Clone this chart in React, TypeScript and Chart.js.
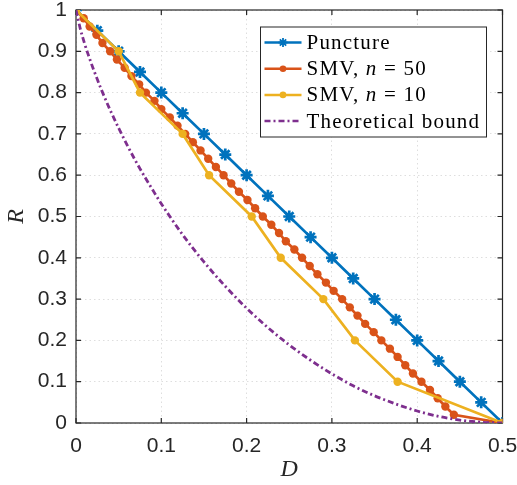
import React, { useEffect, useRef } from 'react';
import { Chart, registerables } from 'chart.js';

Chart.register(...registerables);

const punctureD = [0, 0.025, 0.05, 0.075, 0.1, 0.125, 0.15, 0.175, 0.2, 0.225, 0.25, 0.275, 0.3, 0.325, 0.35, 0.375, 0.4, 0.425, 0.45, 0.475, 0.5];
const punctureR = [1, 0.95, 0.9, 0.85, 0.8, 0.75, 0.7, 0.65, 0.6, 0.55, 0.5, 0.45, 0.4, 0.35, 0.3, 0.25, 0.2, 0.15, 0.1, 0.05, 0];

const smv50D = [0, 0.009, 0.016, 0.024, 0.031, 0.04, 0.048, 0.057, 0.065, 0.074, 0.082, 0.092, 0.1, 0.11, 0.119, 0.128, 0.137, 0.146, 0.155, 0.164, 0.173, 0.182, 0.191, 0.201, 0.21, 0.219, 0.229, 0.238, 0.246, 0.256, 0.265, 0.274, 0.283, 0.293, 0.302, 0.312, 0.321, 0.33, 0.339, 0.349, 0.358, 0.368, 0.377, 0.386, 0.395, 0.405, 0.415, 0.424, 0.433, 0.443, 0.5];
const smv50R = [1, 0.98, 0.96, 0.94, 0.92, 0.9, 0.88, 0.86, 0.84, 0.82, 0.8, 0.78, 0.76, 0.74, 0.72, 0.7, 0.68, 0.66, 0.64, 0.62, 0.6, 0.58, 0.56, 0.54, 0.52, 0.5, 0.48, 0.46, 0.44, 0.42, 0.4, 0.38, 0.36, 0.34, 0.32, 0.3, 0.28, 0.26, 0.24, 0.22, 0.2, 0.18, 0.16, 0.14, 0.12, 0.1, 0.08, 0.06, 0.04, 0.02, 0];

const smv10D = [0, 0.05, 0.075, 0.125, 0.156, 0.206, 0.24, 0.29, 0.327, 0.377, 0.5];
const smv10R = [1, 0.9, 0.8, 0.7, 0.6, 0.5, 0.4, 0.3, 0.2, 0.1, 0];

const boundD = [0, 0.005, 0.01, 0.015, 0.02, 0.03, 0.04, 0.05, 0.06, 0.07, 0.08, 0.09, 0.1, 0.125, 0.15, 0.175, 0.2, 0.225, 0.25, 0.275, 0.3, 0.325, 0.35, 0.375, 0.4, 0.425, 0.45, 0.475, 0.5];
const boundR = [1, 0.955, 0.919, 0.888, 0.859, 0.806, 0.758, 0.714, 0.673, 0.634, 0.598, 0.564, 0.531, 0.456, 0.39, 0.331, 0.278, 0.231, 0.189, 0.152, 0.119, 0.09, 0.066, 0.046, 0.029, 0.016, 0.007, 0.002, 0];

const xTickLabels = ['0', '0.1', '0.2', '0.3', '0.4', '0.5'];
const yTickLabels = ['0', '0.1', '0.2', '0.3', '0.4', '0.5', '0.6', '0.7', '0.8', '0.9', '1'];

const BLUE = '#0072BD';
const RED = '#D95319';
const YELLOW = '#EDB120';
const PURPLE = '#7E2F8E';
const AXIS = '#262626';
const BOUND_DASH = [6, 3, 2, 3];

const toPts = (xs: number[], ys: number[]) => xs.map((x, i) => ({ x, y: ys[i] }));

const legendItems = [
  { parts: [['Puncture', false]], color: BLUE, marker: 'star', dash: [] as number[] },
  { parts: [['SMV, ', false], ['n', true], [' = 50', false]], color: RED, marker: 'circle', dash: [] as number[] },
  { parts: [['SMV, ', false], ['n', true], [' = 10', false]], color: YELLOW, marker: 'circle', dash: [] as number[] },
  { parts: [['Theoretical bound', false]], color: PURPLE, marker: 'none', dash: BOUND_DASH },
];

const framePlugin = {
  id: 'frameTicks',
  beforeDatasetsDraw(chart: any) {
    const { ctx, chartArea } = chart;
    const { left, right, top, bottom } = chartArea;
    const xs = chart.scales.x;
    const ys = chart.scales.y;
    ctx.save();
    ctx.strokeStyle = AXIS;
    ctx.lineWidth = 1.2;
    ctx.setLineDash([]);
    ctx.strokeRect(left, top, right - left, bottom - top);
    const tl = 5;
    ctx.beginPath();
    xs.ticks.forEach((t: any) => {
      const px = xs.getPixelForValue(t.value);
      ctx.moveTo(px, bottom);
      ctx.lineTo(px, bottom - tl);
      ctx.moveTo(px, top);
      ctx.lineTo(px, top + tl);
    });
    ys.ticks.forEach((t: any) => {
      const py = ys.getPixelForValue(t.value);
      ctx.moveTo(left, py);
      ctx.lineTo(left + tl, py);
      ctx.moveTo(right, py);
      ctx.lineTo(right - tl, py);
    });
    ctx.stroke();
    ctx.restore();
  },
};

const legendPlugin = {
  id: 'customLegend',
  afterDraw(chart: any) {
    const { ctx, chartArea } = chart;
    const boxRight = chartArea.right - 16;
    const boxTop = chartArea.top + 17;
    const boxW = 226;
    const boxH = 110;
    const boxLeft = boxRight - boxW;
    ctx.save();
    ctx.fillStyle = '#ffffff';
    ctx.fillRect(boxLeft, boxTop, boxW, boxH);
    ctx.strokeStyle = AXIS;
    ctx.lineWidth = 1;
    ctx.setLineDash([]);
    ctx.strokeRect(boxLeft, boxTop, boxW, boxH);
    const rowH = 26.2;
    legendItems.forEach((item, i) => {
      const cy = boxTop + 15.5 + i * rowH;
      const x0 = boxLeft + 4;
      const x1 = boxLeft + 41;
      ctx.strokeStyle = item.color;
      ctx.lineWidth = 2.5;
      ctx.setLineDash(item.dash);
      ctx.beginPath();
      ctx.moveTo(x0, cy);
      ctx.lineTo(x1, cy);
      ctx.stroke();
      ctx.setLineDash([]);
      const mx = (x0 + x1) / 2;
      if (item.marker === 'circle') {
        ctx.fillStyle = item.color;
        ctx.beginPath();
        ctx.arc(mx, cy, 3.3, 0, Math.PI * 2);
        ctx.fill();
      } else if (item.marker === 'star') {
        ctx.lineWidth = 1.8;
        ctx.beginPath();
        for (let k = 0; k < 4; k++) {
          const a = (k * Math.PI) / 4;
          ctx.moveTo(mx - 4.5 * Math.cos(a), cy - 4.5 * Math.sin(a));
          ctx.lineTo(mx + 4.5 * Math.cos(a), cy + 4.5 * Math.sin(a));
        }
        ctx.stroke();
      }
      let tx = boxLeft + 46;
      ctx.fillStyle = '#000000';
      ctx.textBaseline = 'middle';
      ctx.textAlign = 'left';
      (ctx as any).letterSpacing = '1.2px';
      item.parts.forEach(([text, italic]) => {
        ctx.font = `${italic ? 'italic ' : ''}21px "Liberation Serif"`;
        ctx.fillText(text as string, tx, cy + 1);
        tx += ctx.measureText(text as string).width;
      });
      (ctx as any).letterSpacing = '0px';
    });
    ctx.restore();
  },
};

export default function App() {
  const ref = useRef<HTMLCanvasElement | null>(null);
  useEffect(() => {
    if (!ref.current) return;
    const chart = new Chart(ref.current, {
      type: 'line',
      data: {
        datasets: [
          {
            label: 'Puncture',
            data: toPts(punctureD, punctureR),
            borderColor: BLUE,
            backgroundColor: BLUE,
            borderWidth: 2.7,
            pointStyle: 'star',
            pointRadius: 6,
            pointBorderWidth: 2.7,
            order: 4,
          },
          {
            label: 'SMV, n = 50',
            data: toPts(smv50D, smv50R),
            borderColor: RED,
            backgroundColor: RED,
            borderWidth: 2.7,
            pointStyle: 'circle',
            pointRadius: 4.2,
            pointBorderWidth: 0,
            order: 3,
          },
          {
            label: 'SMV, n = 10',
            data: toPts(smv10D, smv10R),
            borderColor: YELLOW,
            backgroundColor: YELLOW,
            borderWidth: 2.7,
            pointStyle: 'circle',
            pointRadius: 4.2,
            pointBorderWidth: 0,
            order: 2,
          },
          {
            label: 'Theoretical bound',
            data: toPts(boundD, boundR),
            borderColor: PURPLE,
            backgroundColor: PURPLE,
            borderWidth: 2.8,
            borderDash: BOUND_DASH,
            pointRadius: 0,
            cubicInterpolationMode: 'monotone',
            order: 1,
          },
        ],
      },
      options: {
        animation: false,
        responsive: false,
        events: [],
        layout: { padding: { top: 10, right: 14.5, left: 0, bottom: 0 } },
        plugins: { legend: { display: false }, tooltip: { enabled: false } },
        scales: {
          x: {
            type: 'linear',
            min: 0,
            max: 0.5,
            afterFit: (s: any) => { s.height = 62; s.paddingLeft = 0; s.paddingRight = 0; },
            ticks: {
              stepSize: 0.1,
              padding: 11,
              color: AXIS,
              font: { family: '"Liberation Sans", Arial', size: 21 },
              callback: (v: any) => xTickLabels[Math.round(Number(v) / 0.1)] ?? '',
              maxRotation: 0,
            },
            grid: { color: '#dedede', lineWidth: 1, drawTicks: false },
            border: { display: false, dash: [1.5, 3] },
            title: {
              display: true,
              text: 'D',
              color: AXIS,
              font: { family: '"Liberation Serif"', size: 24, style: 'italic' },
              padding: { top: 0, bottom: 1 },
            },
          },
          y: {
            type: 'linear',
            min: 0,
            max: 1,
            afterFit: (s: any) => { s.width = 76; s.paddingTop = 0; s.paddingBottom = 0; },
            ticks: {
              stepSize: 0.1,
              padding: 9,
              color: AXIS,
              font: { family: '"Liberation Sans", Arial', size: 21 },
              callback: (v: any) => yTickLabels[Math.round(Number(v) / 0.1)] ?? '',
            },
            grid: { color: '#dedede', lineWidth: 1, drawTicks: false },
            border: { display: false, dash: [1.5, 3] },
            title: {
              display: true,
              text: 'R',
              color: AXIS,
              font: { family: '"Liberation Serif"', size: 24, style: 'italic' },
              padding: { top: 2, bottom: 0 },
            },
          },
        },
      },
      plugins: [framePlugin, legendPlugin],
    } as any);
    return () => chart.destroy();
  }, []);
  return (
    <div style={{ position: 'fixed', left: 0, top: 0, width: 517, height: 485, background: '#fff' }}>
      <canvas ref={ref} width={517} height={485} style={{ display: 'block' }} />
    </div>
  );
}
